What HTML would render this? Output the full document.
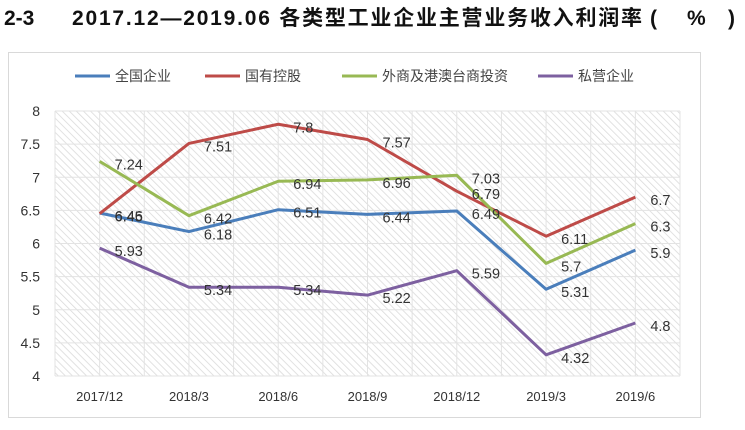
<!DOCTYPE html>
<html><head><meta charset="utf-8"><style>
body{margin:0;background:#fff;width:745px;height:425px;overflow:hidden;font-family:"Liberation Sans","Noto Sans CJK SC",sans-serif}
</style></head><body>
<svg width="745" height="425" font-family="Liberation Sans, Noto Sans CJK SC, sans-serif">
<defs><pattern id="hatch" width="5" height="5" patternUnits="userSpaceOnUse" patternTransform="rotate(-45)"><rect width="5" height="5" fill="#fff"/><line x1="0" y1="0" x2="0" y2="5" stroke="#dadada" stroke-width="1.6"/></pattern></defs>
<g font-size="21" font-weight="bold" fill="#111">
<text x="4" y="25">2-3</text>
<text x="72" y="25" textLength="570" lengthAdjust="spacing">2017.12—2019.06 各类型工业企业主营业务收入利润率</text>
<text x="650" y="25">(</text>
<text x="687" y="25">%</text>
<text x="728" y="25">)</text>
</g>
<rect x="8.5" y="52.5" width="692" height="365" fill="none" stroke="#d9d9d9"/>
<g id="legend"></g>
<rect x="55" y="111" width="625" height="265" fill="url(#hatch)"/>
<g id="grid"></g><g id="axes"></g><g id="series"></g><g id="labels"></g>
</svg>
<script>
const categories=["2017/12","2018/3","2018/6","2018/9","2018/12","2019/3","2019/6"];
const seriesNames=["全国企业","国有控股","外商及港澳台商投资","私营企业"];
const seriesColors=["#4a7ebb","#be4b48","#98b954","#7d60a0"];
const allValues=[6.46,6.18,6.51,6.44,6.49,5.31,5.9];
const stateValues=[6.45,7.51,7.8,7.57,6.79,6.11,6.7];
const foreignValues=[7.24,6.42,6.94,6.96,7.03,5.7,6.3];
const privateValues=[5.93,5.34,5.34,5.22,5.59,4.32,4.8];
const yTicks=[4,4.5,5,5.5,6,6.5,7,7.5,8];
const series=[allValues,stateValues,foreignValues,privateValues];
const NS="http://www.w3.org/2000/svg";
const L=55,R=680,T=111,B=376,ymin=4,ymax=8;
const step=(R-L)/categories.length;
const xs=i=>L+step*(i+0.5);
const ys=v=>B-(v-ymin)/(ymax-ymin)*(B-T);
function mk(tag,attrs,parent,text){const e=document.createElementNS(NS,tag);for(const k in attrs)e.setAttribute(k,attrs[k]);if(text!==undefined)e.textContent=text;document.getElementById(parent).appendChild(e);return e;}
for(let k=0;k<=categories.length*2;k++){const x=L+k*step/2;
const g=mk('line',{x1:x,x2:x,y1:T,y2:B,stroke:'#e3e3e3','stroke-width':1},'grid');

}
yTicks.forEach(v=>{const y=ys(v);
const g=mk('line',{x1:L,x2:R,y1:y,y2:y,stroke:'#e3e3e3','stroke-width':1},'grid');


const t=mk('text',{x:40,y:y+5,'text-anchor':'end','font-size':14,fill:'#333'},'axes',String(v));

});
categories.forEach((c,i)=>{const t=mk('text',{x:xs(i),y:401,'text-anchor':'middle','font-size':13,fill:'#333'},'axes',c);

});
series.forEach((vals,s)=>{const p=mk('polyline',{points:vals.map((v,i)=>xs(i)+','+ys(v)).join(' '),fill:'none',stroke:seriesColors[s],'stroke-width':3,'stroke-linejoin':'round'},'series');


vals.forEach((v,i)=>{const t=mk('text',{x:xs(i)+15,y:ys(v)+8,'font-size':14.5,fill:'#333'},'labels',String(v));

});});
const lx=[75,205,342,538];
seriesNames.forEach((n,s)=>{mk('line',{x1:lx[s],x2:lx[s]+35,y1:76,y2:76,stroke:seriesColors[s],'stroke-width':3},'legend');
const t=mk('text',{x:lx[s]+40,y:81,'font-size':14,fill:'#444'},'legend',n);

});
</script>
</body></html>
